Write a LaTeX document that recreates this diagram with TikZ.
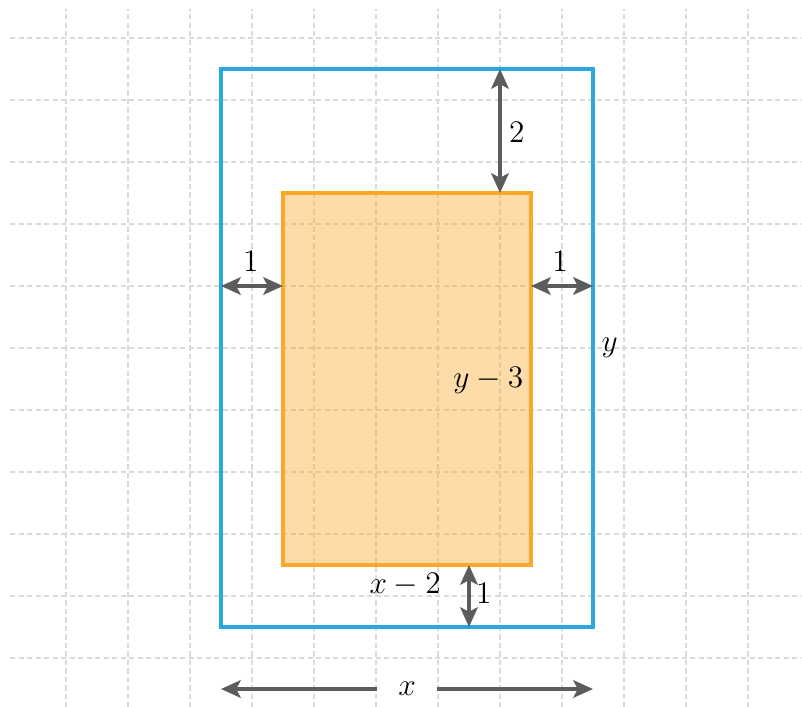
\documentclass[tikz,border=0pt]{standalone}
\usetikzlibrary{arrows.meta}
\definecolor{gridc}{HTML}{DADADA}
\definecolor{bluec}{HTML}{29A9E0}
\definecolor{orangec}{HTML}{F9A82A}
\definecolor{arrc}{HTML}{5C5C5C}
\begin{document}
\begin{tikzpicture}[x=1cm,y=1cm,
  gridline/.style={gridc, line width=0.5pt, dash pattern=on 2.4pt off 1.5pt},
  outerbox/.style={bluec, line width=1.4pt},
  innerbox/.style={orangec, line width=1.4pt, fill=orangec, fill opacity=0.4},
  dimarrow/.style={arrc, line width=1.8pt, {Stealth[length=9pt,width=8pt,inset=2pt]}-{Stealth[length=9pt,width=8pt,inset=2pt]}},
  onearrow/.style={arrc, line width=1.8pt, -{Stealth[length=9pt,width=8pt,inset=2pt]}},
  lab/.style={font=\fontsize{14}{17}\selectfont, inner sep=1pt}]
\useasboundingbox (-3.5645,-1.2742) rectangle (9.371,10.113);
% grid
\foreach \gx in {-2.5,-1.5,...,8.5} \draw[gridline] (\gx,-1.3) -- (\gx,9.97);
\foreach \gy in {-0.5,0.5,...,9.5} \draw[gridline] (-3.4,\gy) -- (9.4,\gy);
% rectangles
\draw[innerbox] (1,1) rectangle (5,7);
\draw[outerbox] (0,0) rectangle (6,9);
% named points
\coordinate (ttop) at (4.5,9);
\coordinate (tbot) at (4.5,7);
\coordinate (ll) at (0,5.5);
\coordinate (lr) at (1,5.5);
\coordinate (rl) at (5,5.5);
\coordinate (rr) at (6,5.5);
\coordinate (bt) at (4,1);
\coordinate (bb) at (4,0);
\coordinate (xl) at (0,-1);
\coordinate (xr) at (6,-1);
% arrows
\draw[dimarrow] (ttop) -- (tbot);
\draw[dimarrow] (ll) -- (lr);
\draw[dimarrow] (rl) -- (rr);
\draw[dimarrow] (bt) -- (bb);
\node[lab, minimum width=0.95cm, inner sep=0pt] (xlab) at (3,-1) {$x$};
\draw[onearrow] (xlab.west) -- (xl);
\draw[onearrow] (xlab.east) -- (xr);
% labels
\node[lab] (l2) at (4.77,7.98) {$2$};
\node[lab] (l1a) at (0.48,5.89) {$1$};
\node[lab] (l1b) at (5.47,5.89) {$1$};
\node[lab] (l1c) at (4.24,0.55) {$1$};
\node[lab] (lx2) at (2.97,0.69) {$x-2$};
\node[lab] (ly3) at (4.31,3.98) {$y-3$};
\node[lab] (ly) at (6.27,4.5) {$y$};
\end{tikzpicture}
\end{document}
